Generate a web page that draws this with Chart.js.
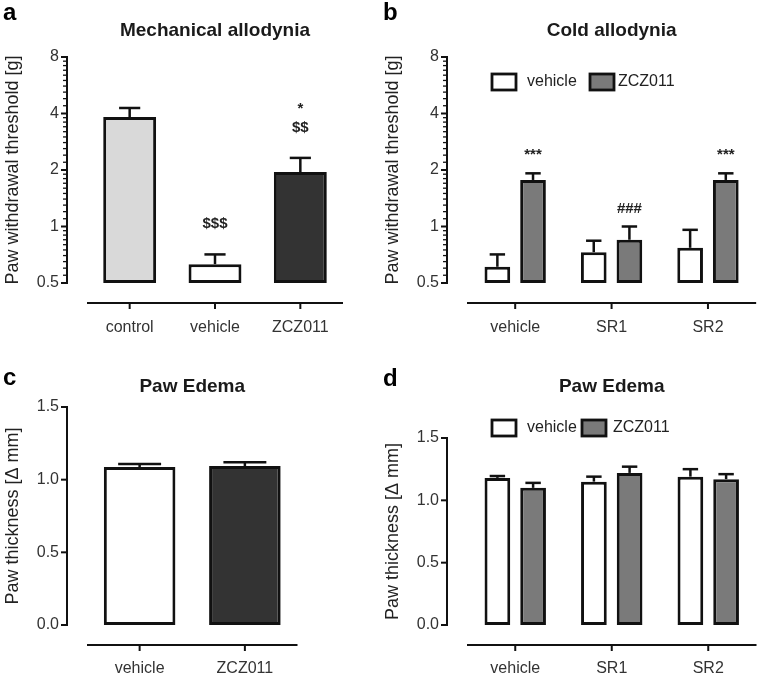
<!DOCTYPE html>
<html>
<head>
<meta charset="utf-8">
<title>ZCZ011 allodynia and paw edema</title>
<script src="https://cdn.jsdelivr.net/npm/chart.js@4.4.1/dist/chart.umd.min.js"></script>
<style>
    body { margin: 0; background: #fff; }
    .panel { position: absolute; width: 379px; height: 339px; }
</style>
</head>
<body>
<div class="panel" style="left:0;top:0"><canvas id="chartA" width="379" height="339"></canvas></div>
<div class="panel" style="left:380px;top:0"><canvas id="chartB" width="379" height="339"></canvas></div>
<div class="panel" style="left:0;top:339px"><canvas id="chartC" width="379" height="339"></canvas></div>
<div class="panel" style="left:380px;top:339px"><canvas id="chartD" width="379" height="339"></canvas></div>
<script>
// --- data (mean and top of SEM bar) ---
const mechCategories = ['control', 'vehicle', 'ZCZ011'];
const mechMeans = [3.83, 0.63, 1.95];
const mechErrTop = [4.28, 0.71, 2.32];
const mechMarks = ['', ['$$$'], ['*', '$$']];

const groupCategories = ['vehicle', 'SR1', 'SR2'];
const coldVehicle = [0.61, 0.73, 0.77];
const coldVehicleErrTop = [0.71, 0.84, 0.96];
const coldZcz = [1.77, 0.85, 1.77];
const coldZczErrTop = [1.92, 1.0, 1.92];
const coldZczMarks = [['***'], ['###'], ['***']];

const edemaCategories = ['vehicle', 'ZCZ011'];
const edemaMeans = [1.087, 1.094];
const edemaErrTop = [1.108, 1.12];

const edemaVehicle = [1.18, 1.15, 1.19];
const edemaVehicleErrTop = [1.195, 1.19, 1.25];
const edemaZcz = [1.10, 1.22, 1.17];
const edemaZczErrTop = [1.14, 1.27, 1.21];

const logTicks = [0.5, 1, 2, 4, 8];
const logMinorTicks = [0.55, 0.6, 0.65, 0.7, 0.75, 0.8, 0.85, 0.9, 0.95,
    1.1, 1.2, 1.3, 1.4, 1.5, 1.6, 1.7, 1.8, 1.9,
    2.2, 2.4, 2.6, 2.8, 3.0, 3.2, 3.4, 3.6, 3.8,
    4.4, 4.8, 5.2, 5.6, 6.0, 6.4, 6.8, 7.2, 7.6];
const linTicks = [0, 0.5, 1.0, 1.5];

const FONT = "'Liberation Sans', Arial, Helvetica, sans-serif";
const INK = '#111';
Chart.defaults.font.family = FONT;

// GraphPad-like detached axes, error bars, marks, legend and panel letter
const prismPlugin = {
    id: 'prism',
    afterDatasetsDraw(chart, args, opts) {
        const { ctx, chartArea } = chart;
        const xs = chart.scales.x, ys = chart.scales.y;
        const line = (x1, y1, x2, y2) => {
            ctx.beginPath(); ctx.moveTo(x1, y1); ctx.lineTo(x2, y2); ctx.stroke();
        };
        ctx.save();
        ctx.strokeStyle = INK;

        // y axis
        const ax = chartArea.left - opts.gap;
        ctx.lineWidth = 2;
        line(ax, ys.getPixelForValue(ys.max) - 1, ax, ys.getPixelForValue(ys.min) + 1);
        ys.ticks.forEach(t => {
            const py = ys.getPixelForValue(t.value);
            line(ax - 6, py, ax, py);
        });
        ctx.lineWidth = 1.3;
        (opts.minor || []).forEach(v => {
            const py = ys.getPixelForValue(v);
            line(ax - 4, py, ax, py);
        });

        // x axis
        const ay = chartArea.bottom + opts.gap;
        ctx.lineWidth = 2;
        line(chartArea.left, ay, chartArea.right, ay);
        xs.ticks.forEach((t, i) => {
            const px = xs.getPixelForTick(i);
            line(px, ay, px, ay + 6);
        });

        // error bars (upper SEM) and significance marks
        chart.data.datasets.forEach((ds, di) => {
            const meta = chart.getDatasetMeta(di);
            meta.data.forEach((bar, i) => {
                const top = ys.getPixelForValue(ds.errTop[i]);
                const half = bar.width * opts.cap / 2;
                ctx.lineWidth = 2.5;
                line(bar.x, bar.y, bar.x, top);
                line(bar.x - half, top, bar.x + half, top);
                const marks = ds.marks && ds.marks[i];
                if (marks) {
                    ctx.fillStyle = '#222';
                    ctx.font = 'bold 15px ' + FONT;
                    ctx.textAlign = 'center';
                    ctx.textBaseline = 'alphabetic';
                    let by = top - opts.markGap;
                    for (let k = marks.length - 1; k >= 0; k--) {
                        ctx.fillText(marks[k], bar.x, by);
                        by -= 19;
                    }
                }
            });
        });

        // legend boxes
        if (opts.legend) {
            const lg = opts.legend;
            ctx.font = '16px ' + FONT;
            ctx.textAlign = 'left';
            ctx.textBaseline = 'middle';
            chart.data.datasets.forEach((ds, di) => {
                const bx = lg.boxX[di];
                ctx.fillStyle = ds.backgroundColor;
                ctx.fillRect(bx, lg.y, 24, 16);
                ctx.lineWidth = 2.8;
                ctx.strokeRect(bx, lg.y, 24, 16);
                ctx.fillStyle = '#222';
                ctx.fillText(ds.label, lg.textX[di], lg.y + 8);
            });
        }

        // panel letter
        ctx.fillStyle = '#000';
        ctx.font = 'bold 24px ' + FONT;
        ctx.textAlign = 'left';
        ctx.textBaseline = 'alphabetic';
        ctx.fillText(opts.letter, 3, opts.letterY);
        ctx.restore();
    }
};

function logAxis() {
    return {
        type: 'logarithmic', min: 0.5, max: 8,
        afterBuildTicks: s => { s.ticks = logTicks.map(v => ({ value: v })); },
        ticks: { padding: 28, color: '#333', font: { size: 16 }, autoSkip: false, callback: v => String(v) },
        grid: { display: false, drawTicks: false },
        border: { display: false },
        title: { display: true, text: 'Paw withdrawal threshold [g]', color: '#222', font: { size: 18 }, padding: { top: 2, bottom: 0 } },
        afterFit: s => { s.width = 87; }
    };
}

function linAxis() {
    return {
        type: 'linear', min: 0, max: 1.5,
        afterBuildTicks: s => { s.ticks = linTicks.map(v => ({ value: v })); },
        ticks: { padding: 28, color: '#333', font: { size: 16 }, autoSkip: false, callback: v => v.toFixed(1) },
        grid: { display: false, drawTicks: false },
        border: { display: false },
        title: { display: true, text: 'Paw thickness [\u0394 mm]', color: '#222', font: { size: 18 }, padding: { top: 2, bottom: 0 } },
        afterFit: s => { s.width = 87; }
    };
}

function panelOptions(o) {
    return {
        responsive: false,
        animation: false,
        layout: { padding: { left: 0, right: o.padRight, top: 0, bottom: 0 } },
        scales: {
            x: {
                grid: { display: false, drawTicks: false },
                border: { display: false },
                ticks: { padding: o.xLabelPad, color: '#333', font: { size: 16 }, autoSkip: false, maxRotation: 0 },
                afterFit: s => { s.height = o.xHeight; }
            },
            y: o.yAxis
        },
        plugins: {
            legend: { display: false },
            tooltip: { enabled: false },
            title: {
                display: true, text: o.title, fullSize: false, color: '#1a1a1a',
                font: { size: 19, weight: 'bold' },
                padding: { top: o.titleTop, bottom: o.titleBottom }
            },
            prism: o.prism
        }
    };
}

document.addEventListener('DOMContentLoaded', () => {
    // a: Mechanical allodynia
    new Chart(document.getElementById('chartA'), {
        type: 'bar',
        data: {
            labels: mechCategories,
            datasets: [{
                data: mechMeans, errTop: mechErrTop, marks: mechMarks,
                backgroundColor: ['#d9d9d9', '#ffffff', '#333333'],
                borderColor: INK, borderWidth: 3, borderSkipped: false,
                barPercentage: 0.62, categoryPercentage: 1
            }]
        },
        options: panelOptions({
            title: 'Mechanical allodynia', titleTop: 19.6, titleBottom: 14.6,
            padRight: 36, xHeight: 56, xLabelPad: 35, yAxis: logAxis(),
            prism: { gap: 20, cap: 0.4, markGap: 26, minor: logMinorTicks, letter: 'a', letterY: 20 }
        }),
        plugins: [prismPlugin]
    });

    // b: Cold allodynia
    new Chart(document.getElementById('chartB'), {
        type: 'bar',
        data: {
            labels: groupCategories,
            datasets: [{
                label: 'vehicle', data: coldVehicle, errTop: coldVehicleErrTop,
                backgroundColor: '#ffffff', borderColor: INK, borderWidth: 3, borderSkipped: false,
                barPercentage: 0.72, categoryPercentage: 0.74
            }, {
                label: 'ZCZ011', data: coldZcz, errTop: coldZczErrTop, marks: coldZczMarks,
                backgroundColor: '#7a7a7a', borderColor: INK, borderWidth: 3, borderSkipped: false,
                barPercentage: 0.72, categoryPercentage: 0.74
            }]
        },
        options: panelOptions({
            title: 'Cold allodynia', titleTop: 19.6, titleBottom: 14.6,
            padRight: 2.5, xHeight: 56, xLabelPad: 35, yAxis: logAxis(),
            prism: {
                gap: 20, cap: 0.6, markGap: 14, minor: logMinorTicks, letter: 'b', letterY: 20,
                legend: { y: 74, boxX: [112, 210], textX: [147, 238] }
            }
        }),
        plugins: [prismPlugin]
    });

    // c: Paw edema, single bars
    new Chart(document.getElementById('chartC'), {
        type: 'bar',
        data: {
            labels: edemaCategories,
            datasets: [{
                data: edemaMeans, errTop: edemaErrTop,
                backgroundColor: ['#ffffff', '#333333'],
                borderColor: INK, borderWidth: 3, borderSkipped: false,
                barPercentage: 0.68, categoryPercentage: 1
            }]
        },
        options: panelOptions({
            title: 'Paw Edema', titleTop: 36, titleBottom: 9.2,
            padRight: 81.5, xHeight: 53, xLabelPad: 34, yAxis: linAxis(),
            prism: { gap: 20, cap: 0.6, markGap: 14, letter: 'c', letterY: 46 }
        }),
        plugins: [prismPlugin]
    });

    // d: Paw edema, grouped
    new Chart(document.getElementById('chartD'), {
        type: 'bar',
        data: {
            labels: groupCategories,
            datasets: [{
                label: 'vehicle', data: edemaVehicle, errTop: edemaVehicleErrTop,
                backgroundColor: '#ffffff', borderColor: INK, borderWidth: 3, borderSkipped: false,
                barPercentage: 0.72, categoryPercentage: 0.74
            }, {
                label: 'ZCZ011', data: edemaZcz, errTop: edemaZczErrTop,
                backgroundColor: '#7a7a7a', borderColor: INK, borderWidth: 3, borderSkipped: false,
                barPercentage: 0.72, categoryPercentage: 0.74
            }]
        },
        options: panelOptions({
            title: 'Paw Edema', titleTop: 36, titleBottom: 40.2,
            padRight: 2.5, xHeight: 53, xLabelPad: 34, yAxis: linAxis(),
            prism: {
                gap: 20, cap: 0.6, markGap: 14, letter: 'd', letterY: 47,
                legend: { y: 81, boxX: [112, 202], textX: [147, 233] }
            }
        }),
        plugins: [prismPlugin]
    });
});
</script>
</body>
</html>
